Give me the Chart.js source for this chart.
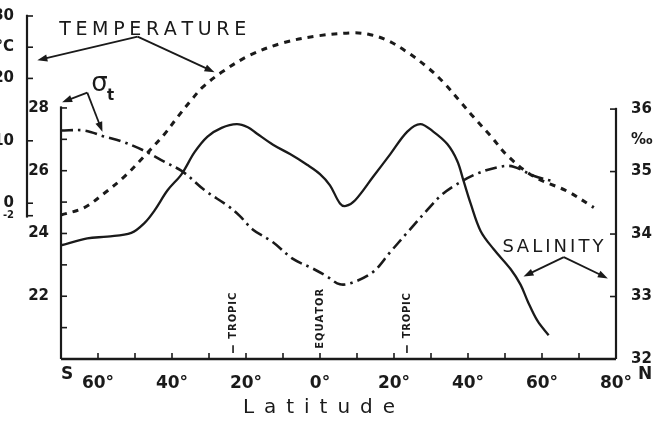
<!DOCTYPE html>
<html><head><meta charset="utf-8">
<script src="https://cdn.jsdelivr.net/npm/chart.js@4.4.1/dist/chart.umd.min.js"></script>
<style>html,body{margin:0;padding:0;background:#fff}#wrap{width:664px;height:430px}</style>
</head><body><div id="wrap"><canvas id="c" width="664" height="430"></canvas></div>
<script>
// ---- data (latitude in degrees, S negative) ----
const tempLat = [-70,-63.7,-58.3,-52.8,-47.4,-42.0,-38.5,-34.7,-31.7,-26.3,-19.0,-10.0,-0.8,8.9,13.6,18.2,23.6,29.0,33.3,37.9,41.5,46.1,50.7,57.7,66.9,74.0];
const tempVal = [-1.9,-0.7,1.6,4.3,7.6,11.1,13.8,16.6,18.6,21.1,23.7,25.7,26.8,27.3,27.0,26.1,24.2,21.8,19.4,16.3,13.8,10.8,7.6,4.3,1.9,-0.7];

const sigmaLat = [-70,-63.7,-58.3,-53.7,-47.4,-42.0,-37.1,-31.2,-24.9,-21.7,-18.2,-12.7,-7.3,-1.9,1.9,5.4,8.9,14.4,19.0,23.6,29.0,32.5,36.0,42.5,48.8,52.3,57.7,63.1];
const sigmaVal = [27.28,27.28,27.09,26.94,26.63,26.28,25.97,25.38,24.88,24.56,24.13,23.72,23.19,22.88,22.63,22.38,22.44,22.78,23.41,24.03,24.75,25.19,25.50,25.91,26.13,26.13,25.84,25.66];

const salLat = [-70,-62.9,-57.5,-51.0,-47.4,-44.7,-41.2,-37.4,-33.9,-30.4,-26.6,-22.5,-19.5,-17.1,-12.7,-8.1,-3.5,0,2.7,5.4,7.0,9.5,14.4,19.0,23.6,27.1,30.6,34.4,37.1,38.8,40.7,43.4,46.9,51.5,54.2,56.1,58.8,61.8];
const salVal = [33.82,33.93,33.96,34.02,34.18,34.38,34.70,34.96,35.31,35.56,35.70,35.76,35.71,35.61,35.43,35.28,35.11,34.96,34.78,34.49,34.45,34.54,34.92,35.28,35.64,35.76,35.64,35.44,35.17,34.85,34.49,34.05,33.76,33.44,33.19,32.93,32.61,32.38];

// ---- ticks ----
const xTicks = [-70,-60,-50,-40,-30,-20,-10,0,10,20,30,40,50,60,70,80];
const xLabelValues = [-60,-40,-20,0,20,40,60,80];
const xLabelText = ['60°','40°','20°','0°','20°','40°','60°','80°'];
const tempTicks = [-2,0,10,20,25,30];
const tempTickLabels = ['-2','0','10','20','°C','30'];
const sigmaTicks = [20,21,22,23,24,25,26,27,28];
const sigmaLabelValues = [22,24,26,28];
const salTicks = [32,33,34,35,35.5,36];
const salTickLabels = ['32','33','34','35','‰','36'];
const tropicLats = [-23.5,23.5];

const ink = '#1a1a1a';
const FONT = "'DejaVu Sans', sans-serif";

function pts(lat, val){ return lat.map((x,i)=>({x:x, y:val[i]})); }

function seg(ctx,x1,y1,x2,y2,w){ctx.lineWidth=w;ctx.beginPath();ctx.moveTo(x1,y1);ctx.lineTo(x2,y2);ctx.stroke();}
function arrow(ctx,x1,y1,x2,y2){
  const a=Math.atan2(y2-y1,x2-x1), L=10, H=3.6;
  seg(ctx,x1,y1,x2-Math.cos(a)*L*0.6,y2-Math.sin(a)*L*0.6,1.8);
  ctx.beginPath();
  ctx.moveTo(x2,y2);
  ctx.lineTo(x2-Math.cos(a)*L-Math.sin(a)*H, y2-Math.sin(a)*L+Math.cos(a)*H);
  ctx.lineTo(x2-Math.cos(a)*L+Math.sin(a)*H, y2-Math.sin(a)*L-Math.cos(a)*H);
  ctx.closePath(); ctx.fill();
}
function spaced(ctx,text,x,y,width){
  const ch=[...text]; const ws=ch.map(c=>ctx.measureText(c).width);
  const tot=ws.reduce((a,b)=>a+b,0); const gap=ch.length>1?(width-tot)/(ch.length-1):0;
  let cx=x; ctx.textAlign='left';
  ch.forEach((c,i)=>{ctx.fillText(c,cx,y);cx+=ws[i]+gap;});
}

const deco = {
  id:'deco',
  beforeDraw(chart){const c=chart.ctx;c.save();c.fillStyle='#fff';c.fillRect(0,0,chart.width,chart.height);c.restore();},
  afterDraw(chart){
    const c=chart.ctx, X=chart.scales.x, T=chart.scales.yT, G=chart.scales.ySig, S=chart.scales.ySal;
    const ca=chart.chartArea;
    c.save(); c.strokeStyle=ink; c.fillStyle=ink; c.lineCap='butt';
    // axis lines
    seg(c,X.getPixelForValue(-70),ca.bottom,X.getPixelForValue(80),ca.bottom,2.6);
    seg(c,T.right,T.getPixelForValue(-2.3),T.right,T.getPixelForValue(30.2),2.2);
    seg(c,G.right,ca.bottom,G.right,G.getPixelForValue(28.05),2.2);
    seg(c,S.left,ca.bottom,S.left,S.getPixelForValue(36.02),2.2);
    // inward ticks
    xTicks.forEach(v=>{ if(v>-70 && v<80){const px=X.getPixelForValue(v); seg(c,px,ca.bottom,px,ca.bottom-6,1.6);} });
    tempTicks.forEach(v=>{const py=T.getPixelForValue(v); seg(c,T.right,py,T.right+6,py,1.6);});
    sigmaTicks.forEach(v=>{const py=G.getPixelForValue(v); seg(c,G.right,py,G.right+6,py,1.6);});
    salTicks.forEach(v=>{ if(v!==35.5){const py=S.getPixelForValue(v); seg(c,S.left,py,S.left-6,py,1.6);} });
    // S and N
    c.font='bold 17px '+FONT; c.textBaseline='middle'; c.textAlign='left';
    c.fillText('S',X.getPixelForValue(-70),375);
    c.fillText('N',X.getPixelForValue(80)+22,375);
    // Latitude title
    c.font='20px '+FONT;
    spaced(c,'Latitude',X.getPixelForValue(0)-77,408,152);
    // TEMPERATURE annotation
    c.font='19px '+FONT;
    spaced(c,'TEMPERATURE',X.getPixelForValue(-70.5),T.getPixelForValue(27.8),187);
    const jx=X.getPixelForValue(-49.3), jy=T.getPixelForValue(26.7);
    arrow(c,jx,jy,X.getPixelForValue(-76.4),T.getPixelForValue(22.9));
    arrow(c,jx,jy,X.getPixelForValue(-28.5),T.getPixelForValue(21.0));
    // sigma-t annotation
    c.font='26px '+FONT; c.textAlign='center';
    c.fillText('σ',X.getPixelForValue(-59.6),G.getPixelForValue(28.74));
    c.font='bold 15px '+FONT;
    c.fillText('t',X.getPixelForValue(-56.6),G.getPixelForValue(28.38));
    const sx=X.getPixelForValue(-62.9), sy=G.getPixelForValue(28.49);
    arrow(c,sx,sy,X.getPixelForValue(-69.7),G.getPixelForValue(28.18));
    arrow(c,sx,sy,X.getPixelForValue(-58.8),G.getPixelForValue(27.24));
    // SALINITY annotation
    c.font='18px '+FONT;
    spaced(c,'SALINITY',X.getPixelForValue(49.3),S.getPixelForValue(33.79),101);
    const qx=X.getPixelForValue(65.9), qy=S.getPixelForValue(33.63);
    arrow(c,qx,qy,X.getPixelForValue(55.0),S.getPixelForValue(33.32));
    arrow(c,qx,qy,X.getPixelForValue(77.8),S.getPixelForValue(33.29));
    // tropic / equator labels
    c.font='bold 10px '+FONT;
    const vlab=(txt,lat,sig,len)=>{c.save();c.translate(X.getPixelForValue(lat),G.getPixelForValue(sig));c.rotate(-Math.PI/2);c.textBaseline='middle';spaced(c,txt,-len/2,0,len);c.restore();};
    vlab('TROPIC',-23.5,21.38,46);
    vlab('EQUATOR',0,21.28,60);
    vlab('TROPIC',23.5,21.38,45);
    tropicLats.forEach(l=>{const px=X.getPixelForValue(l); seg(c,px,G.getPixelForValue(20.44),px,G.getPixelForValue(20.19),1.6);});
    c.restore();
  }
};

const tickFont = {family:FONT,size:15,weight:'bold'};

new Chart(document.getElementById('c'),{
  type:'line',
  data:{datasets:[
    {label:'Temperature',data:pts(tempLat,tempVal),yAxisID:'yT',borderColor:ink,borderWidth:3,borderDash:[6,6],pointRadius:0,fill:false,tension:0.35},
    {label:'σt',data:pts(sigmaLat,sigmaVal),yAxisID:'ySig',borderColor:ink,borderWidth:2.6,borderDash:[12,5,2.5,5],pointRadius:0,fill:false,tension:0.35},
    {label:'Salinity',data:pts(salLat,salVal),yAxisID:'ySal',borderColor:ink,borderWidth:2.3,pointRadius:0,fill:false,tension:0.35}
  ]},
  options:{
    responsive:false, devicePixelRatio:1, animation:false,
    layout:{padding:{top:10,left:0,right:0,bottom:0}},
    plugins:{legend:{display:false},tooltip:{enabled:false}},
    scales:{
      x:{type:'linear',min:-70,max:80,grid:{display:false},border:{display:false},
        afterBuildTicks:s=>{s.ticks=xTicks.map(v=>({value:v}));},
        afterFit:s=>{s.height=71;},
        ticks:{autoSkip:false,maxRotation:0,padding:6,color:ink,font:{family:FONT,size:17,weight:'bold'},
          callback:v=>{const i=xLabelValues.indexOf(v);return i>=0?xLabelText[i]:'';}}},
      yT:{type:'linear',position:'left',weight:1,min:-24.96,max:30,grid:{display:false},border:{display:false},
        afterBuildTicks:s=>{s.ticks=tempTicks.map(v=>({value:v}));},
        afterFit:s=>{s.width=27;},
        ticks:{autoSkip:false,padding:5,color:ink,
          font:ctx=>(ctx.tick&&ctx.tick.value===-2)?{family:FONT,size:10,weight:'bold'}:tickFont,
          callback:v=>{const i=tempTicks.indexOf(v);return i>=0?tempTickLabels[i]:'';}}},
      ySig:{type:'linear',position:'left',weight:0,min:20,max:30.93,grid:{display:false},border:{display:false},
        afterBuildTicks:s=>{s.ticks=sigmaTicks.map(v=>({value:v}));},
        afterFit:s=>{s.width=34;},
        ticks:{autoSkip:false,padding:4,color:ink,font:tickFont,
          callback:v=>sigmaLabelValues.indexOf(v)>=0?String(v):''}},
      ySal:{type:'linear',position:'right',min:32,max:37.49,grid:{display:false},border:{display:false},
        afterBuildTicks:s=>{s.ticks=salTicks.map(v=>({value:v}));},
        afterFit:s=>{s.width=48;},
        ticks:{autoSkip:false,padding:7,color:ink,font:tickFont,
          callback:v=>{const i=salTicks.indexOf(v);return i>=0?salTickLabels[i]:'';}}}
    }
  },
  plugins:[deco]
});
</script></body></html>
